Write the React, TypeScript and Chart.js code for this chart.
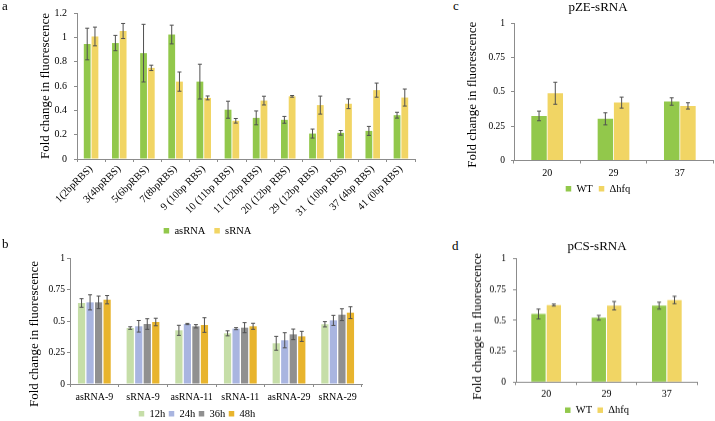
import React, { useEffect, useRef } from 'react';
import { Chart, registerables } from 'chart.js';

Chart.register(...registerables);

const SERIF = '"Liberation Serif", "Times New Roman", serif';
const Y_TITLE = 'Fold change in fluorescence';

// a: RBS variants
const rbsLabels = ['1(2bpRBS)', '3(4bpRBS)', '5(6bpRBS)', '7(8bpRBS)', '9 (10bp RBS)', '10 (11bp RBS)', '11 (12bp RBS)', '20 (12bp RBS)', '29 (12bp RBS)', '31  (10bp RBS)', '37 (4bp RBS)', '41 (0bp RBS)'];
const asRNAMean = [0.945, 0.953, 0.87, 1.023, 0.636, 0.405, 0.338, 0.322, 0.209, 0.215, 0.231, 0.36];
const asRNAErr = [0.13, 0.063, 0.237, 0.077, 0.143, 0.07, 0.057, 0.028, 0.037, 0.019, 0.037, 0.024];
const sRNAMean = [1.007, 1.052, 0.749, 0.636, 0.502, 0.314, 0.48, 0.515, 0.443, 0.454, 0.566, 0.505];
const sRNAErr = [0.077, 0.062, 0.022, 0.079, 0.016, 0.019, 0.036, 0.007, 0.074, 0.04, 0.058, 0.07];
const yTicksA = ['0', '0.2', '0.4', '0.6', '0.8', '1', '1.2'];

// b: time course
const timeCategories = ['asRNA-9', 'sRNA-9', 'asRNA-11', 'sRNA-11', 'asRNA-29', 'sRNA-29'];
const h12 = [0.643, 0.444, 0.426, 0.402, 0.323, 0.474];
const h12Err = [0.034, 0.01, 0.04, 0.02, 0.055, 0.021];
const h24 = [0.648, 0.458, 0.476, 0.439, 0.347, 0.505];
const h24Err = [0.06, 0.046, 0.005, 0.008, 0.06, 0.04];
const h36 = [0.648, 0.476, 0.458, 0.447, 0.394, 0.55];
const h36Err = [0.05, 0.042, 0.013, 0.04, 0.042, 0.047];
const h48 = [0.669, 0.492, 0.468, 0.458, 0.378, 0.566];
const h48Err = [0.033, 0.03, 0.058, 0.024, 0.04, 0.047];
const yTicksQ = ['0', '0.25', '0.5', '0.75', '1'];

// c, d: temperature
const tempLabels = ['20', '29', '37'];
const pzeWT = [0.324, 0.303, 0.429];
const pzeWTErr = [0.035, 0.044, 0.027];
const pzeHfq = [0.489, 0.421, 0.397];
const pzeHfqErr = [0.08, 0.04, 0.023];
const pcsWT = [0.552, 0.522, 0.62];
const pcsWTErr = [0.04, 0.019, 0.028];
const pcsHfq = [0.625, 0.62, 0.666];
const pcsHfqErr = [0.008, 0.034, 0.03];

const GREEN = '#92c84b';
const YELLOW = '#f1d564';
const AXIS = '#8c8c8c';

type Series = { label: string; data: number[]; errors: number[]; color: string };
type Panel = {
  left: number; top: number; width: number; height: number;
  labels: string[]; series: Series[];
  yMax: number; yStep: number; yTicks: string[];
  padLeft: number; padTop: number; padRight: number;
  yWidth: number; xHeight: number; rightGap: number;
  tickPad: number; tickSize: number; xSize: number; xPad: number; rotate: number;
  legendPad: number; catPct: number; barPct: number;
  titleX: number; titleShift: number;
  title?: string; titleBottom?: number;
};

const errorBars = {
  id: 'errorBars',
  afterDatasetsDraw(chart: any) {
    const { ctx } = chart;
    const y = chart.scales.y;
    chart.data.datasets.forEach((ds: any, i: number) => {
      const meta = chart.getDatasetMeta(i);
      meta.data.forEach((bar: any, j: number) => {
        const v = ds.data[j];
        const e = ds.errors[j];
        const top = y.getPixelForValue(v + e);
        const bot = y.getPixelForValue(v - e);
        ctx.save();
        ctx.strokeStyle = '#505050';
        ctx.lineWidth = 1;
        ctx.beginPath();
        ctx.moveTo(bar.x, top); ctx.lineTo(bar.x, bot);
        ctx.moveTo(bar.x - 2, top); ctx.lineTo(bar.x + 2, top);
        ctx.moveTo(bar.x - 2, bot); ctx.lineTo(bar.x + 2, bot);
        ctx.stroke();
        ctx.restore();
      });
    });
  },
};

// y axis title, drawn so it can sit off the axis centre like the original
const yTitle = {
  id: 'yTitle',
  afterDraw(chart: any, _args: any, opts: any) {
    const { ctx } = chart;
    const y = chart.scales.y;
    ctx.save();
    ctx.translate(opts.x, (y.top + y.bottom) / 2 + opts.shift);
    ctx.rotate(-Math.PI / 2);
    ctx.fillStyle = '#000';
    ctx.font = `13px ${SERIF}`;
    ctx.textAlign = 'center';
    ctx.textBaseline = 'middle';
    ctx.fillText(Y_TITLE, 0, 0);
    ctx.restore();
  },
};

function BarPanel({ p }: { p: Panel }) {
  const canvasRef = useRef<HTMLCanvasElement | null>(null);
  useEffect(() => {
    const chart = new Chart(canvasRef.current!, {
      type: 'bar',
      data: {
        labels: p.labels,
        datasets: p.series.map((s) => ({
          label: s.label, data: s.data, errors: s.errors,
          backgroundColor: s.color, borderWidth: 0,
          categoryPercentage: p.catPct, barPercentage: p.barPct,
        })) as any,
      },
      options: {
        animation: false, responsive: true, maintainAspectRatio: false,
        events: [],
        layout: { padding: { left: p.padLeft, top: p.padTop, right: p.padRight, bottom: 0 } },
        plugins: {
          legend: {
            position: 'bottom',
            labels: { boxWidth: 5.5, boxHeight: 5.5, padding: p.legendPad, color: '#000', font: { family: SERIF, size: 10.5 } },
          },
          title: {
            display: !!p.title, text: p.title || '', color: '#000',
            font: { family: SERIF, size: 13, weight: 'normal' },
            padding: { top: 0, bottom: p.titleBottom || 0 },
          },
          tooltip: { enabled: false },
          yTitle: { x: p.titleX, shift: p.titleShift },
        } as any,
        scales: {
          x: {
            grid: { display: true, drawOnChartArea: false, tickLength: 3, color: AXIS },
            border: { color: AXIS },
            ticks: { color: '#000', font: { family: SERIF, size: p.xSize }, autoSkip: false, maxRotation: p.rotate, minRotation: p.rotate, padding: p.xPad },
            afterFit: (s: any) => { s.height = p.xHeight; },
          },
          y: {
            min: 0, max: p.yMax,
            grid: { drawOnChartArea: false, tickLength: 3, color: AXIS },
            border: { color: AXIS },
            ticks: {
              stepSize: p.yStep, color: '#000', font: { family: SERIF, size: p.tickSize }, padding: p.tickPad,
              callback: (_v: any, i: number) => p.yTicks[i],
            },
            afterFit: (s: any) => { s.width = p.yWidth; },
          },
          y2: {
            position: 'right', display: p.rightGap > 0,
            grid: { display: false }, border: { display: false }, ticks: { display: false },
            afterFit: (s: any) => { s.width = p.rightGap; },
          },
        },
      },
      plugins: [errorBars, yTitle],
    });
    return () => chart.destroy();
  }, [p]);
  return (
    <div style={{ position: 'absolute', left: p.left, top: p.top, width: p.width, height: p.height }}>
      <canvas ref={canvasRef}></canvas>
    </div>
  );
}

const panelA: Panel = {
  left: 0, top: 0, width: 420, height: 246,
  labels: rbsLabels,
  series: [
    { label: 'asRNA', data: asRNAMean, errors: asRNAErr, color: GREEN },
    { label: 'sRNA', data: sRNAMean, errors: sRNAErr, color: YELLOW },
  ],
  yMax: 1.2, yStep: 0.2, yTicks: yTicksA,
  padLeft: 0, padTop: 10, padRight: 5,
  yWidth: 77, xHeight: 57.5, rightGap: 0,
  tickPad: 7, tickSize: 10, xSize: 10.5, xPad: 1, rotate: 45,
  legendPad: 9, catPct: 0.55, barPct: 0.88,
  titleX: 46, titleShift: 0,
};

const panelB: Panel = {
  left: 0, top: 244, width: 367, height: 185,
  labels: timeCategories,
  series: [
    { label: '12h', data: h12, errors: h12Err, color: '#c6dea8' },
    { label: '24h', data: h24, errors: h24Err, color: '#a9b5e0' },
    { label: '36h', data: h36, errors: h36Err, color: '#909090' },
    { label: '48h', data: h48, errors: h48Err, color: '#e8b42d' },
  ],
  yMax: 1, yStep: 0.25, yTicks: yTicksQ,
  padLeft: 27, padTop: 14, padRight: 0,
  yWidth: 43, xHeight: 21, rightGap: 5,
  tickPad: 2, tickSize: 9.5, xSize: 10, xPad: 4, rotate: 0,
  legendPad: 3.5, catPct: 0.7, barPct: 0.85,
  titleX: 35, titleShift: 13,
};

const panelC: Panel = {
  left: 466, top: 0, width: 264, height: 204,
  labels: tempLabels,
  series: [
    { label: 'WT', data: pzeWT, errors: pzeWTErr, color: GREEN },
    { label: 'Δhfq', data: pzeHfq, errors: pzeHfqErr, color: YELLOW },
  ],
  yMax: 1, yStep: 0.25, yTicks: yTicksQ,
  padLeft: 0, padTop: 0, padRight: 0,
  yWidth: 48, xHeight: 17, rightGap: 17,
  tickPad: 6, tickSize: 9.5, xSize: 10, xPad: 4, rotate: 0,
  legendPad: 6, catPct: 0.49, barPct: 0.95,
  titleX: 6.5, titleShift: 3,
  title: 'pZE-sRNA', titleBottom: 7.4,
};

const panelD: Panel = {
  left: 470, top: 239, width: 254, height: 185.5,
  labels: tempLabels,
  series: [
    { label: 'WT', data: pcsWT, errors: pcsWTErr, color: GREEN },
    { label: 'Δhfq', data: pcsHfq, errors: pcsHfqErr, color: YELLOW },
  ],
  yMax: 1, yStep: 0.25, yTicks: yTicksQ,
  padLeft: 0, padTop: 0, padRight: 0,
  yWidth: 46, xHeight: 17.3, rightGap: 27,
  tickPad: 7, tickSize: 9.5, xSize: 10, xPad: 3.5, rotate: 0,
  legendPad: 5.4, catPct: 0.51, barPct: 0.93,
  titleX: 8, titleShift: 6,
  title: 'pCS-sRNA', titleBottom: 4.1,
};

const letter = (l: number, t: number): React.CSSProperties => ({
  position: 'absolute', left: l, top: t, fontSize: 13, lineHeight: '13px', color: '#000', zIndex: 2,
});

export default function App() {
  return (
    <div style={{ position: 'fixed', left: 0, top: 0, width: 715, height: 421, overflow: 'hidden', background: '#fff', fontFamily: SERIF }}>
      <BarPanel p={panelA} />
      <BarPanel p={panelB} />
      <BarPanel p={panelC} />
      <BarPanel p={panelD} />
      <span style={letter(2, -1)}>a</span>
      <span style={letter(2, 237)}>b</span>
      <span style={letter(453, -1)}>c</span>
      <span style={letter(452, 239)}>d</span>
    </div>
  );
}
